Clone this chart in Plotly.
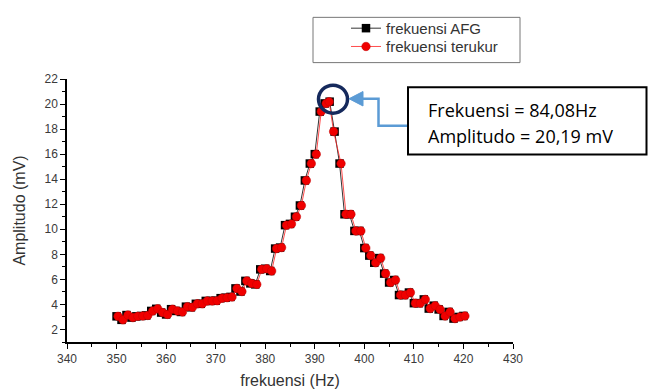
import plotly.graph_objects as go

# ---- data ----
freq_afg = [350, 351, 352, 353, 354, 355, 356, 357, 358, 359,
            360, 361, 362, 363, 364, 365, 366, 367, 368, 369,
            370, 371, 372, 373, 374, 375, 376, 377, 378, 379,
            380, 381, 382, 383, 384, 385, 386, 387, 388, 389,
            390, 391, 392, 393, 394, 395, 396, 397, 398, 399,
            400, 401, 402, 403, 404, 405, 406, 407, 408, 409,
            410, 411, 412, 413, 414, 415, 416, 417, 418, 419, 420]
freq_terukur = [350.3, 351.3, 352.3, 353.3, 354.3, 355.3, 356.3, 357.3, 358.3, 359.3,
                360.3, 361.3, 362.3, 363.3, 364.3, 365.3, 366.3, 367.3, 368.3, 369.3,
                370.3, 371.3, 372.3, 373.3, 374.3, 375.3, 376.3, 377.3, 378.3, 379.3,
                380.3, 381.3, 382.3, 383.3, 384.3, 385.3, 386.3, 387.3, 388.3, 389.3,
                390.3, 391.3, 392.3, 392.9, 393.8, 395.3, 396.3, 397.3, 398.3, 399.3,
                400.3, 401.3, 402.3, 403.3, 404.3, 405.3, 406.3, 407.3, 408.3, 409.3,
                410.3, 411.3, 412.3, 413.3, 414.3, 415.3, 416.3, 417.3, 418.3, 419.3, 420.3]
amplitudo = [3.05, 2.77, 3.15, 2.95, 3.05, 3.08, 3.12, 3.48, 3.65, 3.35,
             3.2, 3.62, 3.48, 3.4, 3.82, 3.77, 4.05, 4.05, 4.28, 4.28,
             4.3, 4.5, 4.54, 4.6, 5.28, 5.03, 5.88, 5.68, 5.6, 6.8,
             6.85, 6.67, 8.46, 8.54, 10.33, 10.43, 11.0, 11.9, 13.9, 15.25,
             16.0, 19.4, 20.05, 20.19, 17.8, 15.25, 11.2, 11.2, 9.87, 9.87,
             8.5, 7.9, 7.33, 7.7, 6.46, 5.75, 5.95, 4.75, 4.75, 4.95,
             4.1, 4.1, 4.4, 3.67, 3.9, 3.6, 3.08, 3.4, 2.87, 3.0, 3.08]

x_ticks = [340, 350, 360, 370, 380, 390, 400, 410, 420, 430]
y_ticks = [2, 4, 6, 8, 10, 12, 14, 16, 18, 20, 22]

# ---- layout geometry (pixels) ----
W, H = 649, 390
L, R, T, B = 67, 136, 69, 48
PW = W - L - R
PH = H - T - B


def px(xp):
    return (xp - L) / PW


def py(yp):
    return (H - B - yp) / PH


fig = go.Figure()
fig.add_trace(go.Scatter(
    x=freq_afg, y=amplitudo, mode="lines+markers", name="frekuensi AFG",
    line=dict(color="black", width=0.8),
    marker=dict(symbol="square", size=8.5, color="black"),
    legend="legend",
))
fig.add_trace(go.Scatter(
    x=freq_terukur, y=amplitudo, mode="lines+markers", name="frekuensi terukur",
    line=dict(color="#ff2020", width=0.8),
    marker=dict(symbol="circle", size=8.5, color="#f00000",
                line=dict(color="#c00000", width=0.5)),
    legend="legend2",
))

SANS = "Liberation Sans, Arial, sans-serif"
axis_font = dict(family=SANS, size=12, color="#3a3a3a")
fig.update_xaxes(
    range=[340, 430], tickvals=x_ticks, ticks="outside", ticklen=5, tickwidth=1.2,
    tickcolor="black", showline=True, linecolor="black", linewidth=1.5,
    showgrid=False, zeroline=False, tickfont=axis_font, automargin=False,
    minor=dict(dtick=5, ticks="outside", ticklen=3, tickcolor="black", tickwidth=1),
    title=dict(text="frekuensi (Hz)", font=dict(family=SANS, size=16, color="#333333"),
               standoff=10),
)
fig.update_yaxes(
    range=[1, 22], tickvals=y_ticks, ticks="outside", ticklen=5, tickwidth=1.2,
    tickcolor="black", showline=True, linecolor="black", linewidth=1.5,
    showgrid=False, zeroline=False, tickfont=axis_font, automargin=False,
    minor=dict(dtick=1, ticks="outside", ticklen=3, tickcolor="black", tickwidth=1),
    title=dict(text="Amplitudo (mV)", font=dict(family=SANS, size=16, color="#333333"),
               standoff=15),
)

# callout circle around the peak
fig.add_shape(type="circle", xref="paper", yref="paper",
              x0=px(318.5), x1=px(347.5), y0=py(104.5), y1=py(75.5),
              line=dict(color="#15295c", width=3.5))

# elbow arrow connector
fig.add_shape(type="path", xref="paper", yref="paper",
              path=(f"M {px(408)} {py(117.5)} L {px(378.5)} {py(117.5)} "
                    f"L {px(378.5)} {py(89.5)} L {px(360)} {py(89.5)}"),
              line=dict(color="#5b9bd5", width=2.5))
fig.add_shape(type="path", xref="paper", yref="paper",
              path=(f"M {px(349)} {py(89.5)} L {px(363)} {py(82)} "
                    f"L {px(363)} {py(97)} Z"),
              fillcolor="#5b9bd5", line=dict(color="#5b9bd5", width=1))

# text box
fig.add_shape(type="rect", xref="paper", yref="paper",
              x0=px(408), x1=px(646.5), y0=py(147.5), y1=py(77.5),
              line=dict(color="black", width=2), fillcolor="white")
box_font = dict(family="Open Sans, Noto Sans, sans-serif", size=18, color="black")
fig.add_annotation(xref="paper", yref="paper", x=px(426), y=py(101),
                   xanchor="left", yanchor="middle", showarrow=False,
                   text="Frekuensi = 84,08Hz", font=box_font)
fig.add_annotation(xref="paper", yref="paper", x=px(426), y=py(128),
                   xanchor="left", yanchor="middle", showarrow=False,
                   text="Amplitudo = 20,19 mV", font=box_font)

# legend border (drawn as a shape so the legend entries can be positioned freely)
fig.add_shape(type="rect", xref="paper", yref="paper",
              x0=px(313), x1=px(520), y0=py(52), y1=py(5),
              line=dict(color="#777777", width=1), fillcolor="rgba(0,0,0,0)")

leg_font = dict(family=SANS, size=15, color="#333333")
fig.update_layout(
    width=W, height=H,
    margin=dict(l=L, r=R, t=T, b=B),
    paper_bgcolor="white", plot_bgcolor="white",
    showlegend=True,
    legend=dict(x=px(346), y=py(16.5), xanchor="left", yanchor="middle",
                borderwidth=0, bgcolor="rgba(0,0,0,0)", font=leg_font,
                tracegroupgap=0, itemwidth=30),
    legend2=dict(x=px(346), y=py(35.5), xanchor="left", yanchor="middle",
                 borderwidth=0, bgcolor="rgba(0,0,0,0)", font=leg_font,
                 tracegroupgap=0, itemwidth=30),
)

fig.write_html("out.html")
